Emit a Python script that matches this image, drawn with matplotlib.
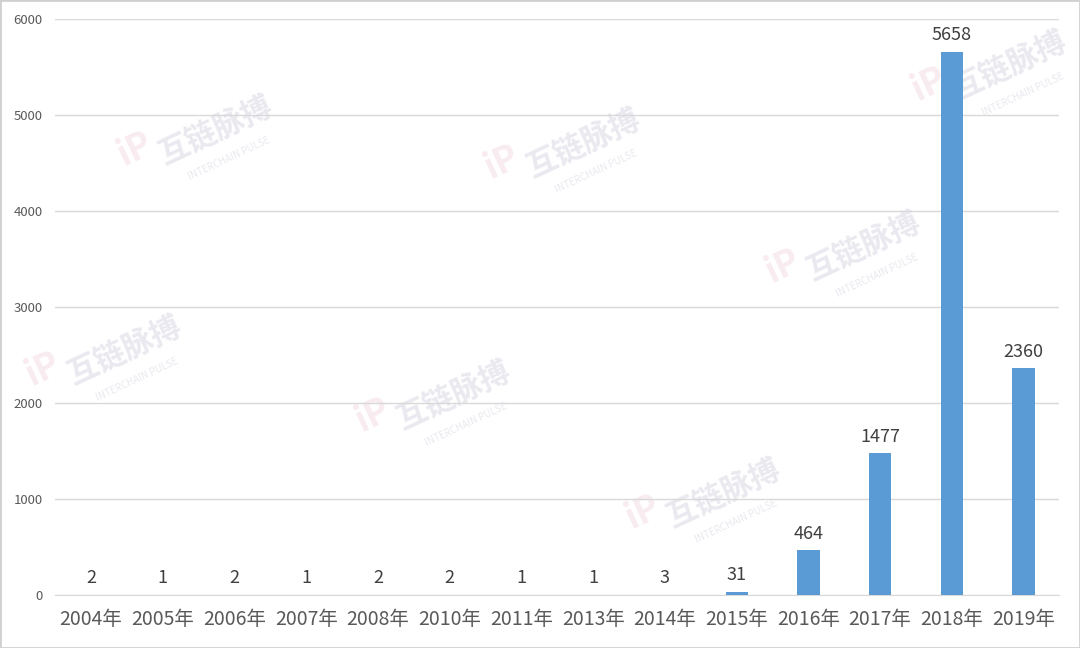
import matplotlib
matplotlib.use("Agg")
import matplotlib.pyplot as plt
from matplotlib.patches import Rectangle

plt.rcParams['font.family'] = ['Noto Sans CJK SC', 'DejaVu Sans']

# data
years = ["2004年", "2005年", "2006年", "2007年", "2008年", "2010年", "2011年",
         "2013年", "2014年", "2015年", "2016年", "2017年", "2018年", "2019年"]
counts = [2, 1, 2, 1, 2, 2, 1, 1, 3, 31, 464, 1477, 5658, 2360]
y_ticks = [0, 1000, 2000, 3000, 4000, 5000, 6000]

# faint watermark positions (figure fraction)
wm_pos = [(0.20, 0.80), (0.54, 0.78), (0.80, 0.62), (0.115, 0.46),
          (0.42, 0.39), (0.67, 0.24), (0.935, 0.90)]

BAR = "#5B9BD5"
TXT = "#595959"

fig = plt.figure(figsize=(10.8, 6.48), dpi=100)
ax = fig.add_axes([0.051, 0.0818, 0.930, 0.889])
ax.patch.set_alpha(0)

x = range(len(years))
ax.bar(x, counts, width=0.31, color=BAR, zorder=3)
for i, v in zip(x, counts):
    ax.text(i, v + 80, str(v), ha="center", va="bottom", fontsize=13, color="#404040", zorder=4)

ax.set_xlim(-0.5, len(years) - 0.5)
ax.set_ylim(0, 6000)
ax.set_yticks(y_ticks)
ax.set_yticklabels([str(t) for t in y_ticks], fontsize=9.5, color=TXT)
ax.set_xticks(list(x))
ax.set_xticklabels(years, fontsize=14, color=TXT)
ax.tick_params(axis="both", length=0)
ax.tick_params(axis="y", pad=9)
ax.tick_params(axis="x", pad=10)
ax.grid(axis="y", color="#d9d9d9", linewidth=1, zorder=0)
for s in ["top", "right", "left"]:
    ax.spines[s].set_visible(False)
ax.spines["bottom"].set_color("#d9d9d9")

# watermarks, kept behind the bars
for wx, wy in wm_pos:
    fig.text(wx - 0.075, wy - 0.03, "iP", fontsize=26, color="#f0d0dc", alpha=0.4,
             rotation=25, ha="center", va="center", fontweight="bold", zorder=-1)
    fig.text(wx, wy, "互链脉搏", fontsize=22, color="#c8c8d8", alpha=0.4,
             rotation=25, ha="center", va="center", fontweight="bold", zorder=-1)
    fig.text(wx + 0.012, wy - 0.045, "INTERCHAIN PULSE", fontsize=7, color="#c8c8d8",
             alpha=0.4, rotation=25, ha="center", va="center", zorder=-1)

fig.patches.append(Rectangle((0, 0), 1, 1, transform=fig.transFigure, fill=False,
                             edgecolor="#d0d0d0", linewidth=2))

fig.savefig("out.png", dpi=100)
